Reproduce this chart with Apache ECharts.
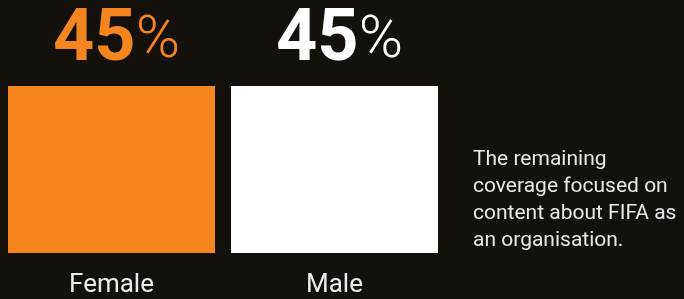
<!DOCTYPE html>
<html>
<head>
<meta charset="utf-8">
<script src="https://cdn.jsdelivr.net/npm/echarts@6/dist/echarts.min.js"></script>
<style>
  html, body { margin: 0; padding: 0; background: #14110d; }
  #chart { width: 684px; height: 299px; }
</style>
</head>
<body>
<div id="chart"></div>
<script>
// data
const categories = ['Female', 'Male'];
const shares = [45, 45];
const barColors = ['#f5851f', '#ffffff'];
const note = 'The remaining\ncoverage focused on\ncontent about FIFA as\nan organisation.';

const chart = echarts.init(document.getElementById('chart'));

chart.setOption({
  backgroundColor: '#14110d',
  textStyle: { fontFamily: 'Roboto' },
  grid: { left: 0, top: 86, width: 446, bottom: 46 },
  xAxis: {
    type: 'category',
    data: categories,
    axisLine: { show: false },
    axisTick: { show: false },
    axisLabel: { color: '#ececec', fontSize: 26, margin: 19 }
  },
  yAxis: {
    type: 'value',
    min: 0,
    max: 45,
    show: false
  },
  series: [{
    type: 'bar',
    barWidth: 207,
    data: shares.map((v, i) => ({
      value: v,
      itemStyle: { color: barColors[i] },
      label: {
        rich: {
          n: { fontSize: 72, fontWeight: 'bold', color: barColors[i], fontFamily: 'Roboto' },
          p: { fontSize: 60, fontWeight: 300, color: barColors[i], fontFamily: 'Roboto' }
        }
      }
    })),
    label: {
      show: true,
      position: 'top',
      distance: 8,
      offset: [5, 0],
      formatter: (p) => '{n|' + p.value + '}{p|%}'
    }
  }],
  graphic: [{
    type: 'text',
    left: 473,
    top: 146,
    style: {
      text: note,
      fill: '#e8e8e8',
      font: '21px Roboto',
      lineHeight: 27
    }
  }]
});
</script>
</body>
</html>
